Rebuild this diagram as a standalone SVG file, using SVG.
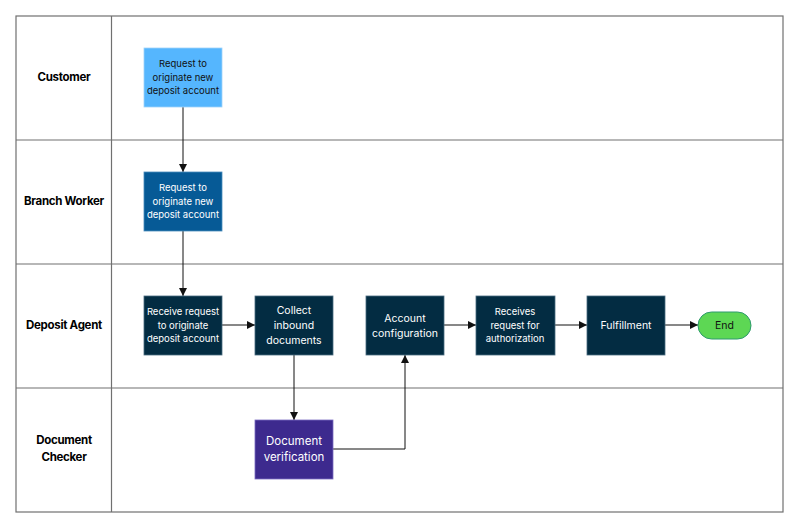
<svg xmlns="http://www.w3.org/2000/svg" width="800" height="528" viewBox="0 0 800 528">
<style>
.lane{fill:none;stroke:#707070;stroke-width:1.2}
.lbl{font-family:Inter,"Liberation Sans",sans-serif;font-weight:700;font-size:11.5px;fill:#000;text-anchor:middle;letter-spacing:-0.3px}
.t{font-family:Inter,"Liberation Sans",sans-serif;font-size:9.5px;fill:#fff;text-anchor:middle}
.t2{font-family:Inter,"Liberation Sans",sans-serif;font-size:10.5px;fill:#fff;text-anchor:middle}
.t3{font-family:Inter,"Liberation Sans",sans-serif;font-size:11.5px;fill:#fff;text-anchor:middle}
.dark{fill:#032c42;stroke:#4a6c80;stroke-width:0.8}
.c{fill:none;stroke:#111;stroke-width:1}
</style>
<defs>
<marker id="ah" viewBox="0 0 10 10" refX="10" refY="5" markerWidth="8" markerHeight="8" markerUnits="userSpaceOnUse" orient="auto">
<path d="M0,0 L10,5 L0,10 z" fill="#111"/>
</marker>
</defs>
<rect width="800" height="528" fill="#fff"/>
<g id="lanes">
<rect class="lane" x="16" y="16" width="767" height="496"/>
<line class="lane" x1="111.5" y1="16" x2="111.5" y2="512"/>
<line class="lane" x1="16" y1="140" x2="783" y2="140"/>
<line class="lane" x1="16" y1="264" x2="783" y2="264"/>
<line class="lane" x1="16" y1="388" x2="783" y2="388"/>
<text class="lbl" x="64" y="81">Customer</text>
<text class="lbl" x="64" y="205">Branch Worker</text>
<text class="lbl" x="64" y="329">Deposit Agent</text>
<text class="lbl" x="64" y="444">Document</text>
<text class="lbl" x="64" y="461">Checker</text>
</g>
<g id="connectors">
<line class="c" x1="183" y1="107" x2="183" y2="172" marker-end="url(#ah)"/>
<line class="c" x1="183" y1="231" x2="183" y2="296" marker-end="url(#ah)"/>
<line class="c" x1="222" y1="325" x2="255" y2="325" marker-end="url(#ah)"/>
<line class="c" x1="294" y1="355" x2="294" y2="420" marker-end="url(#ah)"/>
<polyline class="c" points="333,449 405,449 405,355" marker-end="url(#ah)"/>
<line class="c" x1="444" y1="325" x2="476" y2="325" marker-end="url(#ah)"/>
<line class="c" x1="555" y1="325" x2="587" y2="325" marker-end="url(#ah)"/>
<line class="c" x1="665" y1="325" x2="698" y2="325" marker-end="url(#ah)"/>
</g>
<g id="n1">
<rect x="144" y="48" width="78" height="59" fill="#55b6fe" stroke="#9fd3fb" stroke-width="0.8"/>
<text class="t" x="183" y="67" fill="#000" style="fill:#111">Request to</text>
<text class="t" x="183" y="81" style="fill:#111">originate new</text>
<text class="t" x="183" y="94" style="fill:#111">deposit account</text>
</g>
<g id="n2">
<rect x="144" y="172" width="78" height="59" fill="#065a96" stroke="#4a8cbc" stroke-width="0.8"/>
<text class="t" x="183" y="191">Request to</text>
<text class="t" x="183" y="205">originate new</text>
<text class="t" x="183" y="218">deposit account</text>
</g>
<g id="n3">
<rect class="dark" x="144" y="296" width="78" height="59"/>
<text class="t" x="183" y="315">Receive request</text>
<text class="t" x="183" y="329">to originate</text>
<text class="t" x="183" y="342">deposit account</text>
</g>
<g id="n4">
<rect class="dark" x="255" y="296" width="78" height="59"/>
<text class="t2" x="294" y="314">Collect</text>
<text class="t2" x="294" y="329">inbound</text>
<text class="t2" x="294" y="344">documents</text>
</g>
<g id="n5">
<rect class="dark" x="366" y="296" width="78" height="59"/>
<text class="t2" x="405" y="322">Account</text>
<text class="t2" x="405" y="337">configuration</text>
</g>
<g id="n6">
<rect class="dark" x="476" y="296" width="79" height="59"/>
<text class="t" x="515" y="315">Receives</text>
<text class="t" x="515" y="329">request for</text>
<text class="t" x="515" y="342">authorization</text>
</g>
<g id="n7">
<rect class="dark" x="587" y="296" width="78" height="59"/>
<text class="t2" x="626" y="329">Fulfillment</text>
</g>
<g id="n8">
<rect x="698" y="312" width="53" height="27" rx="13.5" fill="#5dd754" stroke="#2e9a6e" stroke-width="1"/>
<text class="t2" x="724.5" y="329" style="fill:#111">End</text>
</g>
<g id="n9">
<rect x="255" y="420" width="78" height="59" fill="#3d2a8e" stroke="#7a6cc0" stroke-width="0.8"/>
<text class="t3" x="294" y="445">Document</text>
<text class="t3" x="294" y="461">verification</text>
</g>
</svg>
